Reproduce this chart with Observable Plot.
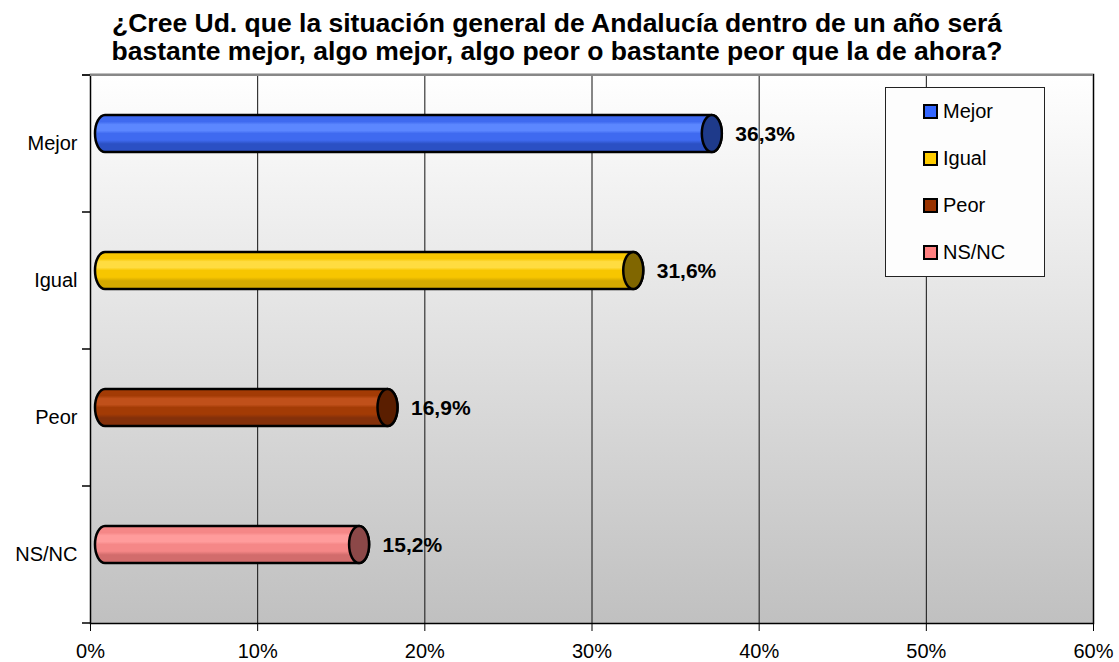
<!DOCTYPE html>
<html><head><meta charset="utf-8">
<script src="https://cdn.jsdelivr.net/npm/d3@7"></script>
<script src="https://cdn.jsdelivr.net/npm/@observablehq/plot@0.6"></script>
<style>
body{margin:0;background:#fff;font-family:"Liberation Sans",Arial,sans-serif;}
#wrap{position:relative;width:1119px;height:662px;overflow:hidden;}
#title{height:70px;box-sizing:border-box;padding-top:9px;text-align:center;font-weight:bold;font-size:26.5px;line-height:28px;color:#000;padding-right:5px;white-space:nowrap;}
#legend{position:absolute;left:885px;top:87px;width:160px;height:190px;box-sizing:border-box;border:1px solid #222;background:#fdfdfd;}
.item{position:absolute;left:37px;height:24px;display:flex;align-items:center;font-size:20px;color:#000;}
.sw{width:11px;height:11px;border:2px solid #000;margin-right:5px;}
#chart svg{display:block;}
</style></head>
<body><div id="wrap"><div id="title"></div><div id="chart"></div><div id="legend"></div></div>
<script>
const categories = ["Mejor", "Igual", "Peor", "NS/NC"];
const values = [36.3, 31.6, 16.9, 15.2];
const xTicks = [0, 10, 20, 30, 40, 50, 60];
const titleLines = [
  "¿Cree Ud. que la situación general de Andalucía dentro de un año será",
  "bastante mejor, algo mejor, algo peor o bastante peor que la de ahora?"
];
const swatchColors = ["#3366ff", "#ffcc00", "#993300", "#ff8080"];
const bodyLight = ["#5c87ff", "#ffdc40", "#c0501a", "#ff9c9c"];
const bodyBase = ["#3f6af0", "#f7c600", "#a33b05", "#f58787"];
const bodyDark = ["#2b50c4", "#d4a900", "#84300a", "#d26c6c"];
const capColors = ["#1e3a8a", "#806600", "#5a1e00", "#8c4848"];

const fmt = v => v.toFixed(1).replace(".", ",") + "%";

document.getElementById("title").innerHTML = titleLines.join("<br>");

const rows = categories.map((c, i) => ({cat: c, value: values[i], grad: `url(#g${i})`, cap: capColors[i]}));

const chart = Plot.plot({
  width: 1119,
  height: 592,
  marginLeft: 90,
  marginRight: 26,
  marginTop: 4,
  marginBottom: 39,
  style: {fontFamily: "'Liberation Sans', Arial, sans-serif", fontSize: "20px", background: "transparent", color: "#000"},
  x: {domain: [0, 60], ticks: xTicks, tickFormat: d => d + "%", tickSize: 8, tickPadding: 12, label: null},
  y: {domain: categories, paddingInner: 0.73, paddingOuter: 0.365, tickSize: 0, tickPadding: 13, label: null},
  color: {type: "identity"},
  marks: [
    Plot.frame({fill: "url(#bg)"}),
    Plot.ruleX(xTicks.slice(1), {stroke: "#111", strokeWidth: 1}),
    Plot.barX(rows, {x1: 0, x2: "value", y: "cat", fill: "grad", stroke: "#000", strokeWidth: 2.5,
      rx: 10, ry: 18.5, insetLeft: -10, insetRight: -10, dx: 15, dy: -10}),
    Plot.barX(rows, {x1: "value", x2: "value", y: "cat", fill: "cap", stroke: "#000", strokeWidth: 2.5,
      rx: 10, ry: 18.5, insetLeft: -10, insetRight: -10, dx: 15, dy: -10}),
    Plot.text(rows, {x: "value", y: "cat", text: d => fmt(d.value), textAnchor: "start", dx: 38, dy: -10,
      fontSize: 21, fontWeight: "bold", fill: "#000"}),
    Plot.frame({stroke: "#000", strokeWidth: 1.5})
  ]
});
document.getElementById("chart").appendChild(chart);

// gradients
const svg = d3.select(chart);
const defs = svg.insert("defs", ":first-child");
const bg = defs.append("linearGradient").attr("id", "bg").attr("x1", 0).attr("y1", 0).attr("x2", 0).attr("y2", 1);
bg.append("stop").attr("offset", 0).attr("stop-color", "#ffffff");
bg.append("stop").attr("offset", 1).attr("stop-color", "#c0c0c0");
categories.forEach((c, i) => {
  const g = defs.append("linearGradient").attr("id", `g${i}`).attr("x1", 0).attr("y1", 0).attr("x2", 0).attr("y2", 1);
  const stops = [[0, bodyBase[i]], [0.18, bodyBase[i]], [0.26, bodyLight[i]], [0.42, bodyLight[i]], [0.5, bodyBase[i]],
    [0.68, bodyBase[i]], [0.78, bodyDark[i]], [1, bodyDark[i]]];
  stops.forEach(([o, col]) => g.append("stop").attr("offset", o).attr("stop-color", col));
});

// top border and category boundary ticks
const ys = chart.scale("y");
const xs = chart.scale("x");
const step = ys.step || ys.bandwidth / (1 - 0.73);
const x0 = xs.apply(0), x60 = xs.apply(60);
const bounds = categories.map(c => ys.apply(c) + ys.bandwidth / 2 - step / 2);
bounds.push(bounds[bounds.length - 1] + step);
const extra = svg.append("g");
extra.append("line").attr("x1", x0 - 8).attr("x2", x60).attr("y1", bounds[0]).attr("y2", bounds[0])
  .attr("stroke", "#888").attr("stroke-width", 2);
bounds.forEach(b => extra.append("line").attr("x1", x0 - 8).attr("x2", x0).attr("y1", b).attr("y2", b)
  .attr("stroke", "#000").attr("stroke-width", 1.5));

// legend
const legend = document.getElementById("legend");
categories.forEach((c, i) => {
  const it = document.createElement("div");
  it.className = "item";
  it.style.top = (11.5 + i * 47) + "px";
  it.innerHTML = `<span class="sw" style="background:${swatchColors[i]}"></span><span>${c}</span>`;
  legend.appendChild(it);
});
</script>
</body></html>
